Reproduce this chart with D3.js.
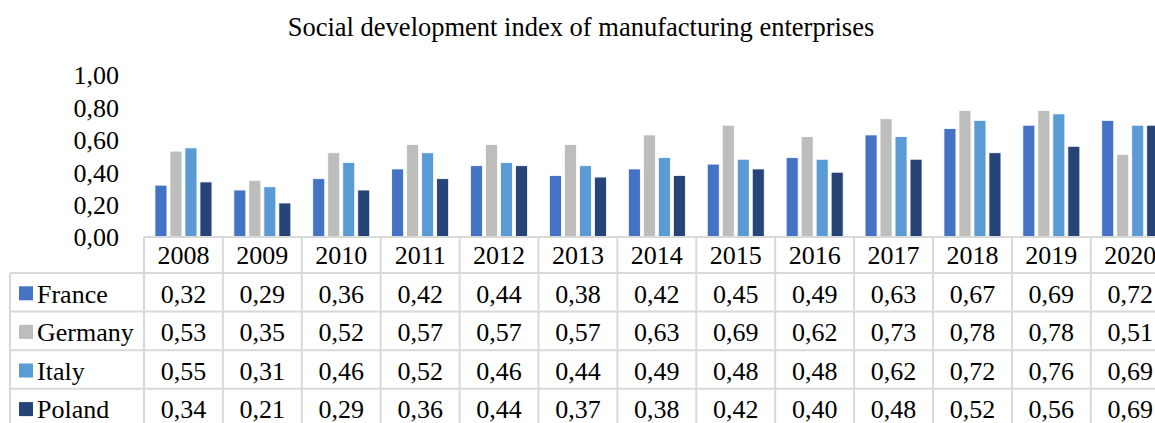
<!DOCTYPE html>
<html>
<head>
<meta charset="utf-8">
<script src="https://cdn.jsdelivr.net/npm/d3@7"></script>
<style>
  body { margin: 0; background: #fff; }
  svg { display: block; font-family: "Liberation Serif", "Times New Roman", serif; }
</style>
</head>
<body>
<div id="chart"></div>
<script>
// chart data
var years = ["2008", "2009", "2010", "2011", "2012", "2013", "2014", "2015", "2016", "2017", "2018", "2019", "2020"];
var countries = ["France", "Germany", "Italy", "Poland"];
var france  = [0.32, 0.29, 0.36, 0.42, 0.44, 0.38, 0.42, 0.45, 0.49, 0.63, 0.67, 0.69, 0.72];
var germany = [0.53, 0.35, 0.52, 0.57, 0.57, 0.57, 0.63, 0.69, 0.62, 0.73, 0.78, 0.78, 0.51];
var italy   = [0.55, 0.31, 0.46, 0.52, 0.46, 0.44, 0.49, 0.48, 0.48, 0.62, 0.72, 0.76, 0.69];
var poland  = [0.34, 0.21, 0.29, 0.36, 0.44, 0.37, 0.38, 0.42, 0.40, 0.48, 0.52, 0.56, 0.69];
var yTicks = [0, 0.2, 0.4, 0.6, 0.8, 1.0];
var title = "Social development index of manufacturing enterprises";

var series = [france, germany, italy, poland];
var colors = ["#4472C4", "#BDBDBB", "#5B9BD5", "#264478"];
var fmt = function(v) { return v.toFixed(2).replace(".", ","); };

// dimensions
var W = 1155, H = 423;
var plotLeft = 144, colW = 78.9;
var plotRight = plotLeft + colW * years.length;
var y0 = 237, y1 = 75;
var headerH = 36, rowH = 38.6;
var gridColor = "#D9D9D9";

var svg = d3.select("#chart").append("svg")
  .attr("width", W)
  .attr("height", H);

// title
svg.append("text")
  .attr("x", 581)
  .attr("y", 36)
  .attr("text-anchor", "middle")
  .style("font-size", "26.5px")
  .attr("fill", "#000")
  .text(title);

// scales
var x = d3.scaleBand()
  .domain(years)
  .range([plotLeft, plotRight]);

var xInner = d3.scaleBand()
  .domain(countries)
  .range([0, 57])
  .paddingInner(0.2);

var y = d3.scaleLinear()
  .domain([0, 1])
  .range([y0, y1]);

// y axis labels
var yAxis = d3.axisLeft(y)
  .tickValues(yTicks)
  .tickSize(0)
  .tickPadding(0)
  .tickFormat(fmt);
var gy = svg.append("g")
  .attr("transform", "translate(119,0)")
  .call(yAxis);
gy.select(".domain").remove();
gy.selectAll("text")
  .attr("dy", "0.34em")
  .style("font-family", "'Liberation Serif', 'Times New Roman', serif")
  .style("font-size", "26px")
  .attr("fill", "#000");

// bars
series.forEach(function(vals, si) {
  svg.append("g")
    .selectAll("rect")
    .data(vals)
    .enter().append("rect")
      .attr("x", function(d, i) { return x(years[i]) + (colW - 57) / 2 + xInner(countries[si]); })
      .attr("y", function(d) { return y(d); })
      .attr("width", xInner.bandwidth())
      .attr("height", function(d) { return y0 - y(d); })
      .attr("fill", colors[si])
      .attr("stroke", "#fff")
      .attr("stroke-width", 0.8);
});

// data table grid
var grid = svg.append("g")
  .attr("stroke", gridColor)
  .attr("stroke-width", 2)
  .attr("fill", "none");

// horizontal lines
grid.append("line")
  .attr("x1", plotLeft).attr("x2", plotRight)
  .attr("y1", y0).attr("y2", y0);
d3.range(countries.length + 1).forEach(function(r) {
  var yy = y0 + headerH + r * rowH;
  grid.append("line")
    .attr("x1", 10).attr("x2", plotRight)
    .attr("y1", yy).attr("y2", yy);
});

// vertical lines
grid.append("line")
  .attr("x1", 10).attr("x2", 10)
  .attr("y1", y0 + headerH).attr("y2", H + 10);
years.forEach(function(yr) {
  grid.append("line")
    .attr("x1", x(yr)).attr("x2", x(yr))
    .attr("y1", y0).attr("y2", H + 10);
});
grid.append("line")
  .attr("x1", plotRight).attr("x2", plotRight)
  .attr("y1", y0).attr("y2", H + 10);

// header year labels
svg.append("g")
  .selectAll("text")
  .data(years)
  .enter().append("text")
    .attr("x", function(d) { return x(d) + colW / 2; })
    .attr("y", y0 + headerH / 2)
    .attr("dy", "0.36em")
    .attr("text-anchor", "middle")
    .style("font-size", "26px")
    .text(function(d) { return d; });

// table rows
series.forEach(function(vals, si) {
  var rowY = y0 + headerH + si * rowH;
  var midY = rowY + rowH / 2 + 1;
  var row = svg.append("g");
  row.append("rect")
    .attr("x", 19)
    .attr("y", midY - 7)
    .attr("width", 14)
    .attr("height", 14)
    .attr("fill", colors[si]);
  row.append("text")
    .attr("x", 37)
    .attr("y", midY)
    .attr("dy", "0.36em")
    .style("font-size", "26px")
    .text(countries[si]);
  row.selectAll("text.val")
    .data(vals)
    .enter().append("text")
      .attr("class", "val")
      .attr("x", function(d, i) { return x(years[i]) + colW / 2; })
      .attr("y", midY)
      .attr("dy", "0.36em")
      .attr("text-anchor", "middle")
      .style("font-size", "26px")
      .text(fmt);
});
</script>
</body>
</html>
